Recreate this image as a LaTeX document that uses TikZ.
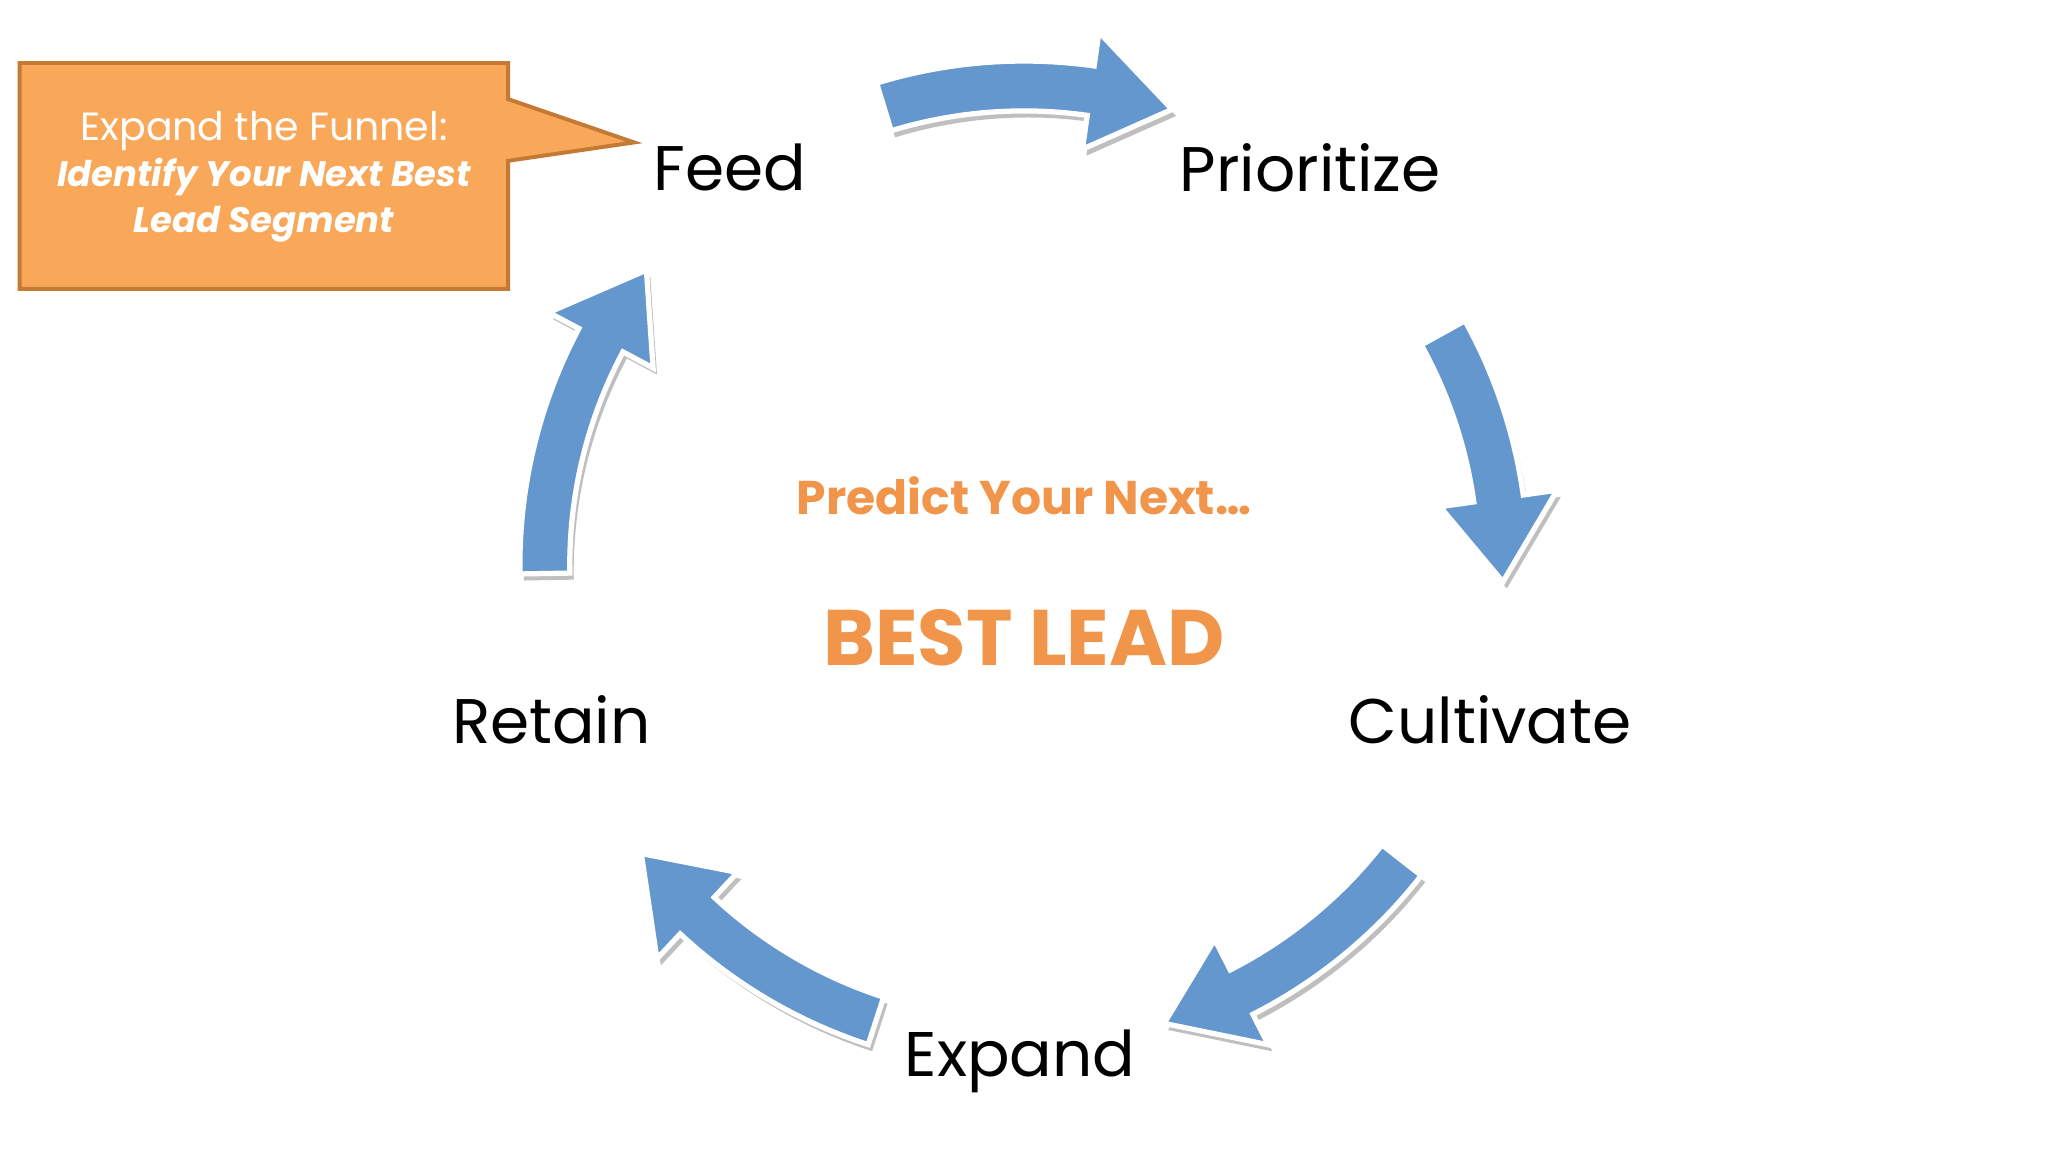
\documentclass[tikz,border=0pt]{standalone}
\usepackage{fontspec}
\setmainfont{Poppins}
\definecolor{arrblue}{RGB}{100,151,205}
\definecolor{orng}{RGB}{240,149,74}
\definecolor{boxfill}{RGB}{249,168,90}
\definecolor{boxedge}{RGB}{196,122,52}
\newcommand\blockarr[3]{%
 \fill[black!25,shift={(783,442)}] (#1:346) arc[start angle=#1,end angle=#2,radius=346] -- (#2:320) -- (#3:365) -- (#2:410) -- (#2:384) arc[start angle=#2,end angle=#1,radius=384] -- cycle;
 \filldraw[fill=arrblue,draw=white,line width=4pt,line join=miter,shift={(780,447)}] (#1:346) arc[start angle=#1,end angle=#2,radius=346] -- (#2:320) -- (#3:365) -- (#2:410) -- (#2:384) arc[start angle=#2,end angle=#1,radius=384] -- cycle;}
\tikzset{lbl/.style={font=\fontsize{48}{56}\selectfont,text=black}}
\begin{document}
\begin{tikzpicture}[x=1pt,y=1pt]
\useasboundingbox (0,0) rectangle (1560,877.5);
\fill[white] (0,0) rectangle (1560,877.5);
\blockarr{107}{82}{72}
\blockarr{29}{8}{-2}
\blockarr{-38}{-63}{-73}
\blockarr{-108}{-133}{-143}
\blockarr{-179}{-208}{-218}
\node[lbl] (feed) at (556,750) {Feed};
\node[lbl] (prio) at (998,750) {Prioritize};
\node[lbl] (cult) at (1135,329) {Cultivate};
\node[lbl] (exp) at (777,69) {Expand};
\node[lbl] (ret) at (420,329) {Retain};
\node[font=\bfseries\fontsize{36}{42}\selectfont,text=orng] (pred) at (780,500) {Predict Your Next…};
\node[font=\bfseries\fontsize{60}{70}\selectfont,text=orng] (best) at (780,392) {BEST LEAD};
\filldraw[fill=boxfill,draw=boxedge,line width=3pt] (15,829.5) -- (387,829.5) -- (387,802) -- (483,769) -- (387,755) -- (387,657.5) -- (15,657.5) -- cycle;
\node[text=white,align=center,font=\fontsize{30}{37}\selectfont] (call) at (201,743) {Expand the Funnel:\\[-2pt]{\bfseries\itshape\fontsize{27}{36}\selectfont Identify Your Next Best}\\[-2pt]{\bfseries\itshape\fontsize{27}{36}\selectfont Lead Segment}};
\end{tikzpicture}
\end{document}
